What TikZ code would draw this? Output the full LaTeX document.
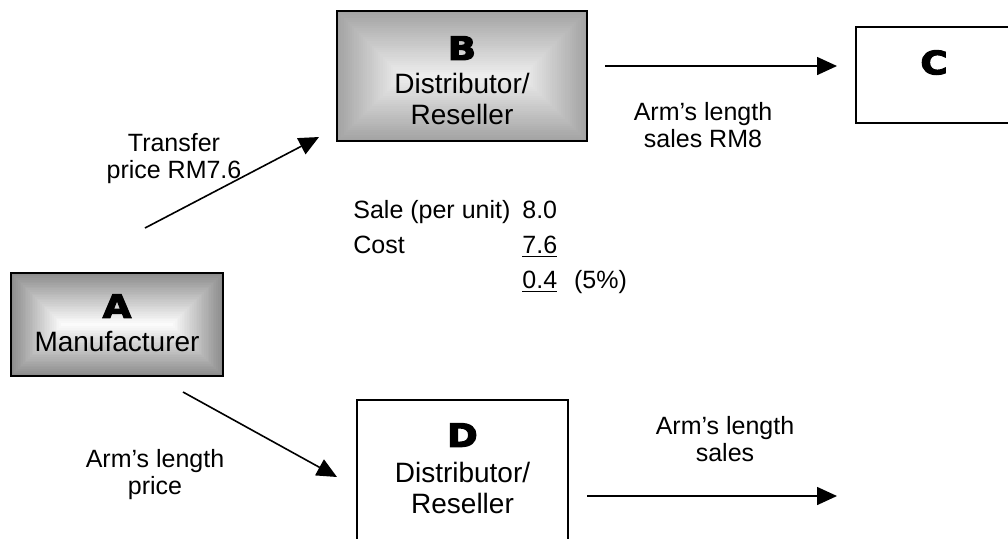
\documentclass[tikz,border=0pt]{standalone}
\usepackage{fontspec}
\setmainfont{Liberation Sans}
\newfontfamily\letterfont[FakeStretch=1.15,FakeBold=4]{DejaVu Sans Bold}
\newcommand\boxletter[1]{{\letterfont\fontsize{16}{16}\selectfont #1}}
\usetikzlibrary{arrows.meta}

\colorlet{aOut}{black!45}
\colorlet{aIn}{white}
\colorlet{bOut}{black!36}
\colorlet{bIn}{black!6}

\tikzset{
  x=0.5pt, y=-0.5pt,
  boxline/.style={draw, line width=1pt, outer sep=0pt},
  grbox/.style n args={3}{boxline, path picture={
      \foreach \i in {0,...,30} {
        \pgfmathsetmacro\ins{\i*#3/30}
        \pgfmathsetmacro\pct{100*\i/30}
        \fill[#2!\pct!#1] ([xshift=\ins pt, yshift=-\ins pt]path picture bounding box.north west)
          rectangle ([xshift=-\ins pt, yshift=\ins pt]path picture bounding box.south east);
      }
    }},
  boxtext/.style={align=center, inner sep=0pt, font=\fontsize{14}{15.5}\selectfont},
  lbl/.style={align=center, inner sep=0pt, font=\fontsize{12.5}{13.5}\selectfont},
  arr/.style={line width=0.8pt, -{Triangle[length=10pt,width=9pt]}},
}

\begin{document}
\begin{tikzpicture}
  \useasboundingbox (0,0) rectangle (1008,538);
  \clip (0,0) rectangle (1008,538);

  % Прямоугольники
  \node[grbox={aOut}{aIn}{25.75}, minimum width=106pt, minimum height=51.5pt] (A) at (117,324.5) {};
  \node[grbox={bOut}{bIn}{32.5}, minimum width=125pt, minimum height=65pt] (B) at (462,76) {};
  \node[boxline, minimum width=78pt, minimum height=48pt] (C) at (934,75) {};
  \node[boxline, minimum width=105.5pt, minimum height=80pt] (D) at (462.5,480) {};

  % Надписи в прямоугольниках
  \node[boxtext, anchor=north] (At) at ([yshift=-10.5pt]A.north) {\boxletter{A}\\[1.5pt]Manufacturer};
  \node[boxtext, anchor=north] (Bt) at ([yshift=-12.5pt]B.north) {\boxletter{B}\\[1.5pt]Distributor/\\Reseller};
  \node[boxtext, anchor=north] (Ct) at ([yshift=-11.5pt]C.north) {\boxletter{C}};
  \node[boxtext, anchor=north] (Dt) at ([yshift=-11.5pt]D.north) {\boxletter{D}\\[2.5pt]Distributor/\\Reseller};

  % Концы стрелок
  \coordinate (ab1) at (145,228);
  \coordinate (ab2) at (319,137);
  \coordinate (bc1) at (605,66);
  \coordinate (bc2) at (837,66);
  \coordinate (ad1) at (183,392);
  \coordinate (ad2) at (337,477);
  \coordinate (dx1) at (587,496);
  \coordinate (dx2) at (837,496);

  % Стрелки
  \draw[arr] (ab1) -- (ab2);
  \draw[arr] (bc1) -- (bc2);
  \draw[arr] (ad1) -- (ad2);
  \draw[arr] (dx1) -- (dx2);

  % Подписи стрелок
  \node[lbl] (lab) at (174,159) {Transfer\\price RM7.6};
  \node[lbl] (lbc) at (703,125) {Arm’s length\\sales RM8};
  \node[lbl] (lad) at (155,475) {Arm’s length\\price};
  \node[lbl] (ldx) at (725,439) {Arm’s length\\sales};

  % Расчёт
  \node[anchor=base west, inner sep=0pt, font=\fontsize{12.5}{17.5}\selectfont] (calc) at (353,218)
    {\begin{tabular}[t]{@{}l@{\hspace{6pt}}l@{}}
      Sale (per unit) & 8.0\\
      Cost & \underline{7.6}\\
      & \underline{0.4}\hspace{8.5pt}(5\%)
    \end{tabular}};
\end{tikzpicture}
\end{document}
